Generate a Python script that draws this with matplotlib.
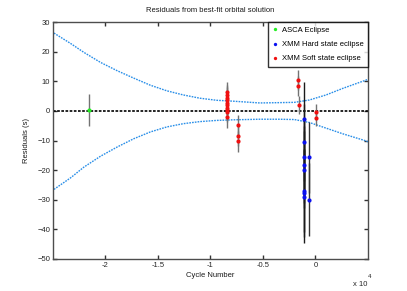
import matplotlib
matplotlib.use("Agg")
import matplotlib.pyplot as plt
from matplotlib.ticker import FuncFormatter, MultipleLocator

plt.rcParams['font.family'] = ['Liberation Sans', 'DejaVu Sans']

# Envelope of the best-fit solution (cycle number, residual in s)
env_upper_x = [-24900, -23320, -22060, -20470, -18890, -17310, -15730, -14150, -12580,
               -11000, -9410, -7840, -5310, -3500, -2000, -570, 1010, 2590, 4800, 5000]
env_upper_y = [26.3, 22.8, 19.8, 16.4, 13.6, 11.1, 8.7, 6.8, 5.4,
               4.3, 3.6, 3.3, 2.7, 2.8, 2.9, 3.7, 5.4, 7.6, 10.4, 10.7]
env_lower_x = [-24900, -23320, -22060, -20470, -18890, -17310, -15730, -14150, -12580,
               -11000, -9410, -7840, -5310, -3500, -2000, -570, 1010, 2590, 4800, 5000]
env_lower_y = [-26.5, -22.6, -19.0, -15.3, -12.2, -9.4, -7.1, -5.4, -4.3,
               -3.6, -3.2, -3.0, -2.8, -2.8, -2.9, -3.9, -5.8, -7.7, -10.1, -10.4]

# ASCA eclipse
asca_x = [-21580]
asca_y = [0.3]
asca_err = [5.5]

# XMM hard state eclipses
hard1_x = [-1110] * 8
hard1_y = [-2.8, -10.5, -15.6, -18.2, -19.9, -26.9, -27.7, -28.9]
hard1_err = [12.7, 13, 13, 13, 13, 14, 15, 15.7]
hard2_x = [-570, -570]
hard2_y = [-15.6, -30.0]
hard2_err = [12.0, 12.3]

# XMM soft state eclipses
soft_x = [-8400] * 10 + [-7360] * 3 + [-1680, -1680, -1580] + [60, 60]
soft_y = [6.3, 5.4, 4.5, 3.7, 2.8, 2.0, 1.1, 0.3, -0.4, -2.1,
          -4.8, -8.3, -10.3,
          10.4, 8.5, 2.0,
          -0.4, -2.5]
soft_err = [3.5] * 10 + [3.5] * 3 + [3.3, 3.3, 3.0] + [2.7, 2.6]

fig = plt.figure(figsize=(4.07, 2.91), dpi=100)
ax = fig.add_axes([0.130, 0.110, 0.774, 0.814])

ax.plot(env_upper_x, env_upper_y, color='#2a8fe8', lw=1.0, ls=(0, (1.2, 0.8)), zorder=2)
ax.plot(env_lower_x, env_lower_y, color='#2a8fe8', lw=1.0, ls=(0, (1.2, 0.8)), zorder=2)
ax.axhline(0, color='black', ls=(0, (1.6, 0.9)), lw=1.2, zorder=2)

ax.errorbar(asca_x, asca_y, yerr=asca_err, fmt='none', ecolor='0.45', elinewidth=1, zorder=3)
ax.errorbar(soft_x, soft_y, yerr=soft_err, fmt='none', ecolor='0.45', elinewidth=1, zorder=3)
ax.errorbar(hard1_x, hard1_y, yerr=hard1_err, fmt='none', ecolor='0.1', elinewidth=1, zorder=3)
ax.errorbar(hard2_x, hard2_y, yerr=hard2_err, fmt='none', ecolor='0.2', elinewidth=1, zorder=3)

ax.plot(asca_x, asca_y, 'o', color='#22ee22', ms=3, mec='none', label='ASCA Eclipse', zorder=4)
ax.plot(hard1_x + hard2_x, hard1_y + hard2_y, 'o', color='#0a10f0', ms=3, mec='none',
        label='XMM Hard state eclipse', zorder=4)
ax.plot(soft_x, soft_y, 'o', color='#f01010', ms=3, mec='none', label='XMM Soft state eclipse', zorder=4)

ax.set_xlim(-25000, 5000)
ax.set_ylim(-50, 30)
ax.set_xticks([-20000, -15000, -10000, -5000, 0])
ax.xaxis.set_major_formatter(FuncFormatter(lambda v, p: '%g' % (v / 1e4)))
ax.yaxis.set_major_locator(MultipleLocator(10))
ax.tick_params(direction='in', length=3, width=1, labelsize=5.5, top=True, right=True,
               colors='0.2', labelcolor='0.15', pad=2)
for s in ax.spines.values():
    s.set_color('0.3')
    s.set_linewidth(1)

ax.set_title('Residuals from best-fit orbital solution', fontsize=5.5, color='0.1', pad=7)
ax.set_xlabel('Cycle Number', fontsize=5.5, color='0.1', labelpad=2)
ax.set_ylabel('Residuals (s)', fontsize=5.5, color='0.1', labelpad=5)
fig.text(0.902, 0.012, 'x 10', fontsize=5.5, color='0.15', ha='right', va='bottom')
fig.text(0.904, 0.042, '4', fontsize=4.5, color='0.15', ha='left', va='bottom')

leg = ax.legend(loc='upper right', fontsize=5.5, frameon=True, fancybox=False, borderaxespad=0,
                handlelength=0.7, handletextpad=0.5, borderpad=0.6, labelspacing=0.9,
                markerscale=0.8)
leg.get_frame().set_edgecolor('black')
leg.get_frame().set_linewidth(1)

fig.savefig('out.png', dpi=100)
